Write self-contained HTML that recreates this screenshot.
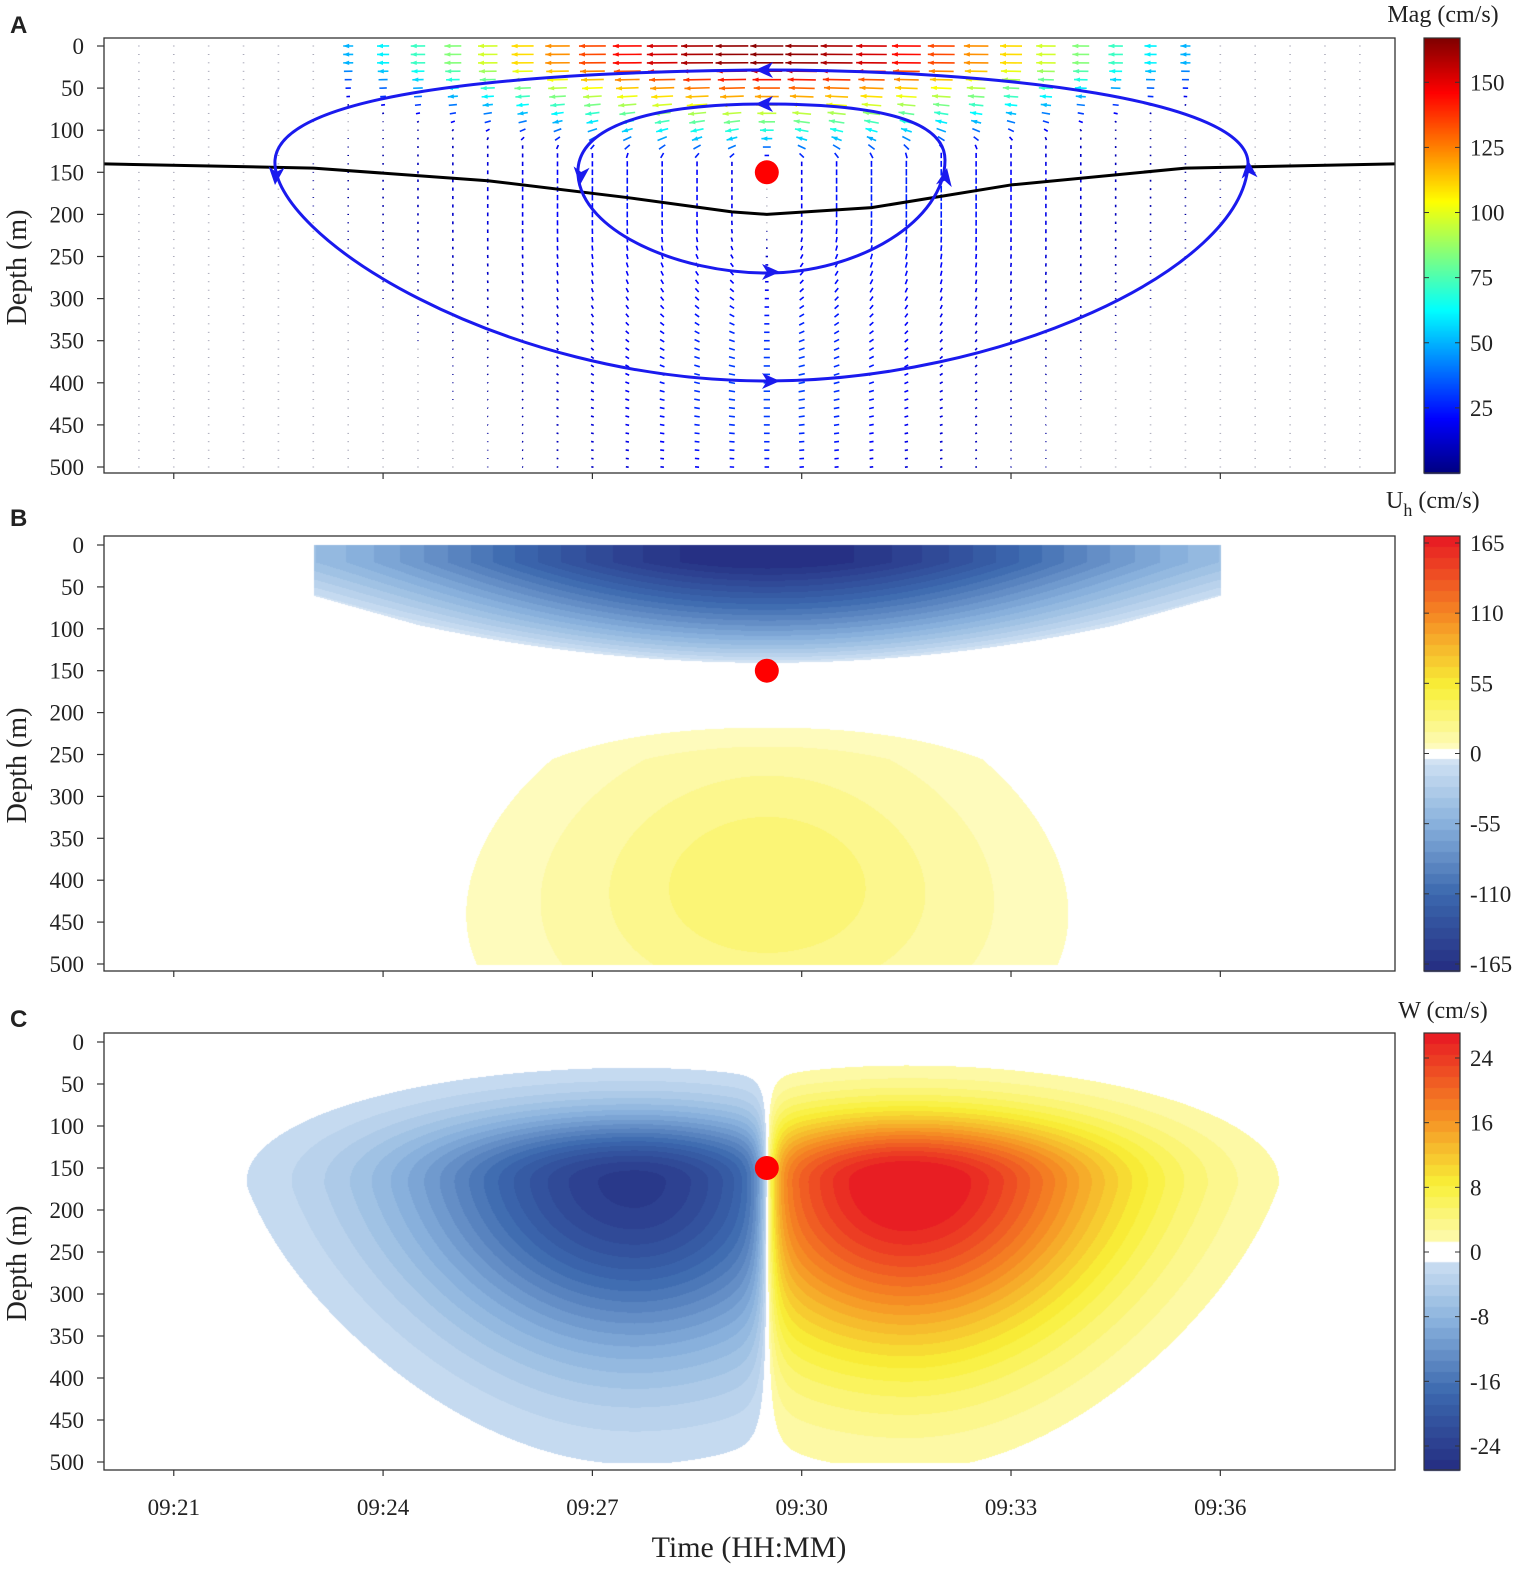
<!DOCTYPE html>
<html><head><meta charset="utf-8">
<style>
html,body{margin:0;padding:0;background:#fff;}
#wrap{position:relative;width:1535px;height:1581px;overflow:hidden;}
canvas,svg{position:absolute;left:0;top:0;}
text{font-family:"Liberation Serif",serif;fill:#222;}
</style></head>
<body>
<div id="wrap">
<canvas id="cv" width="1535" height="1581"></canvas>
<svg id="sv" width="1535" height="1581"></svg>
</div>
<script>
// ---- data ----
const depthTicks=[0,50,100,150,200,250,300,350,400,450,500];
const timeTickMin=[1,4,7,10,13,16];
const timeTickLabels=['09:21','09:24','09:27','09:30','09:33','09:36'];
const magTicks=[25,50,75,100,125,150];
const uhTicks=[165,110,55,0,-55,-110,-165];
const wTicks=[24,16,8,0,-8,-16,-24];
const eddyCenter=[9.5,150]; // minutes after 09:20, depth m
const thermoTimes=[0,3,5.5,7.5,9,9.5,11,13,15.5,18.5];
const thermoDepths=[140,145,160,180,197,200,192,165,145,140];
const uhNegMax=[165], uhPosMax=[32], wNegMax=[24], wPosMax=[27];
const magMax=167;

const X0=104,X1=1395,PPM=69.77;
const P={A:{top:38,bot:473,z0:46,z5:467},B:{top:536,bot:971,z0:545,z5:964},C:{top:1033,bot:1470,z0:1042,z5:1462}};
const xOf=t=>X0+t*PPM;
const yOf=(p,z)=>p.z0+z/500*(p.z5-p.z0);
const sq=v=>v*v;

function uField(t,z){
  const s=t-eddyCenter[0];let v=0;
  const zb=Math.max(65,140-1.8*s*s);
  const Wt=z<60?6.5:6.5-(z-60)/70*3;
  if(z<zb&&Math.abs(s)<Wt){
    const vf=z<20?1:Math.pow(Math.max(0,1-(z-20)/(zb-20)),0.8);
    v-=uhNegMax[0]*vf*Math.exp(-sq(s/5.5));
    if(vf>0)v=Math.min(v,-6);
  }
  if(z>195){
    const sm=Math.min(1,(z-195)/60);
    v+=uhPosMax[0]*sm*Math.exp(-sq((z-405)/160))*Math.exp(-sq(s/(2.1+z/600)));
  }
  return v;
}
function wField(t,z){
  const s=t-eddyCenter[0];const a=Math.abs(s);
  const neg=s<0;const amp=neg?wNegMax[0]:wPosMax[0];
  const pk=neg?1.9:2.0;
  const wOut=(neg?3.3:3.1)*(1-0.25*Math.max(0,(z-170)/330));
  const hf=(1-Math.exp(-a/0.12))*Math.exp(-sq((a-pk)/(a<pk?2.8:wOut)));
  const vf=Math.exp(-sq((z-165)/(z<165?80:200)));
  return (neg?-1:1)*amp*hf*vf;
}
function lerp(a,b,f){return a.map((x,i)=>x+(b[i]-x)*f);}
function ramp(anchors,f){f=Math.max(0,Math.min(1,f));const n=anchors.length-1;const i=Math.min(n-1,Math.floor(f*n));return lerp(anchors[i],anchors[i+1],f*n-i);}
const negA=[[222,234,247],[140,180,222],[60,105,175],[38,48,132]];
const posA=[[255,253,212],[248,240,55],[245,135,35],[232,30,35]];
function divCmap(v,vmax,thr){
  if(Math.abs(v)<thr)return[255,255,255];
  let f=Math.min(1,Math.abs(v)/vmax);f=Math.ceil(f*20)/20;
  return ramp(v<0?negA:posA,f);
}
function jet(f){f=Math.max(0,Math.min(1,f));
  const r=Math.min(1,Math.max(0,1.5-Math.abs(4*f-3))),g=Math.min(1,Math.max(0,1.5-Math.abs(4*f-2))),b=Math.min(1,Math.max(0,1.5-Math.abs(4*f-1)));
  return[r*255,g*255,b*255];}

// ---- canvas heatmaps ----
const ctx=document.getElementById('cv').getContext('2d');
const img=ctx.createImageData(1535,1581);const D=img.data;
function put(x,y,c){const i=(y*1535+x)*4;D[i]=c[0];D[i+1]=c[1];D[i+2]=c[2];D[i+3]=255;}
for(const [key,fn,vmax,thr] of [['B',uField,165,3],['C',wField,26,1.4]]){
  const p=P[key];
  for(let y=Math.round(p.z0);y<=Math.round(p.z5);y++){
    const z=(y-p.z0)/(p.z5-p.z0)*500;
    for(let x=X0+1;x<X1;x++){const t=(x-X0)/PPM;put(x,y,divCmap(fn(t,z),vmax,thr));}
  }
}
const CB0=1424,CB1=1460;
for(let y=38;y<=473;y++){const f=(473-y)/(473-38);const c=jet(f);for(let x=CB0;x<CB1;x++)put(x,y,c);}
for(let y=536;y<=971;y++){const v=165*(1-2*(y-536)/(971-536));const c=divCmap(v,165,4);for(let x=CB0;x<CB1;x++)put(x,y,c);}
for(let y=1033;y<=1470;y++){const v=27-54*(y-1033)/(1470-1033);const c=divCmap(v,27,1.2);for(let x=CB0;x<CB1;x++)put(x,y,c);}
ctx.putImageData(img,0,0);

// ---- SVG overlay ----
const NS='http://www.w3.org/2000/svg';const sv=document.getElementById('sv');
function mk(tag,attrs,parent){const e=document.createElementNS(NS,tag);for(const k in attrs)e.setAttribute(k,attrs[k]);(parent||sv).appendChild(e);return e;}
function txt(x,y,s,size,anchor,parent){const e=mk('text',{x:x,y:y,'font-size':size,'text-anchor':anchor||'start'},parent);e.textContent=s;return e;}

const qg=mk('g',{});


const pA=P.A;
for(let t=0.5;t<18.3;t+=0.5){
  for(let z=0;z<=500;z+=10){
    const u=uField(t,z),w=wField(t,z);
    const dx=u*0.2,dy=-w*0.25;const mag=Math.hypot(u,w);
    const x=xOf(t),y=yOf(pA,z);
    const c=mag<3?[150,150,170]:jet(mag/magMax);
    const col='rgb('+c.map(v=>Math.round(v)).join(',')+')';
    const L=Math.max(0.8,Math.hypot(dx,dy));
    const ux=L>0.9?dx/L:0,uy=L>0.9?dy/L:1;
    const ln=mk('line',{x1:x-ux*L/2,y1:y-uy*L/2,x2:x+ux*L/2,y2:y+uy*L/2,stroke:col,'stroke-width':1.6},qg);
    
    
    if(L>10){const hx=x+ux*L/2,hy=y+uy*L/2;
      mk('polygon',{points:`${hx},${hy} ${hx-ux*6-uy*2.2},${hy-uy*6+ux*2.2} ${hx-ux*6+uy*2.2},${hy-uy*6-ux*2.2}`,fill:col},qg);}
  }
}
let d='';thermoTimes.forEach((t,i)=>{d+=(i?' L':'M')+xOf(t)+','+yOf(pA,thermoDepths[i]);});
const th=mk('path',{d:d,fill:'none',stroke:'#000','stroke-width':3,'stroke-linejoin':'round'});

const s1=mk('path',{d:'M766,70 C500,72 280,95 275,160 C270,235 500,381 766,381 C1000,381 1242,270 1248,165 C1252,100 1000,70 766,70 Z',fill:'none',stroke:'#1a1aee','stroke-width':3});

const s2=mk('path',{d:'M766,104 C640,104 575,130 578,175 C582,232 680,273 766,273 C860,273 945,220 945,160 C945,118 870,104 766,104 Z',fill:'none',stroke:'#1a1aee','stroke-width':3});

function arrowHead(x,y,ang){const g=mk('polygon',{points:'0,0 -18,-8 -13,0 -18,8',fill:'#1a1aee',transform:`translate(${x},${y}) rotate(${ang})`});}
arrowHead(755,70,180);arrowHead(275,185,95);arrowHead(780,381,0);arrowHead(1248,160,-95);
arrowHead(755,104,180);arrowHead(580,185,95);arrowHead(780,272,0);arrowHead(947,168,-80);

for(const k of ['A','B','C']){const c=mk('circle',{cx:xOf(eddyCenter[0]),cy:yOf(P[k],eddyCenter[1]),r:12,fill:'#ff0000'});
  }

const cbTitles={A:'Mag (cm/s)',B:'U',C:'W (cm/s)'};
const cbTitleY={A:22,B:508,C:1018};
const letterY={A:33,B:526,C:1027};
for(const k of ['A','B','C']){const p=P[k];
  const fr=mk('rect',{x:X0,y:p.top,width:X1-X0,height:p.bot-p.top,fill:'none',stroke:'#333','stroke-width':1.3});
  
  const yg=mk('g',{});
  depthTicks.forEach(z=>{const y=yOf(p,z);mk('line',{x1:X0-7,y1:y,x2:X0,y2:y,stroke:'#333','stroke-width':1.2},yg);txt(84,y+8,String(z),23,'end',yg);});
  const xg=mk('g',{});
  timeTickMin.forEach((t,i)=>{const x=xOf(t);mk('line',{x1:x,y1:p.bot,x2:x,y2:p.bot+6,stroke:'#333','stroke-width':1.2},xg);
    if(k==='C')txt(x,1515,timeTickLabels[i],23,'middle',xg);});
  const yt=txt(0,0,'Depth (m)',28,'middle');yt.setAttribute('transform',`translate(26,${(p.top+p.bot)/2+12}) rotate(-90)`);
  
  const lt=mk('text',{x:10,y:letterY[k],'font-size':24,'font-weight':'bold',style:'font-family:"Liberation Sans",sans-serif'});lt.textContent=k;
  
  const cb=mk('rect',{x:CB0,y:p.top,width:CB1-CB0,height:p.bot-p.top,fill:'none',stroke:'#333','stroke-width':1.2});
  
  const tt=txt(1443,cbTitleY[k],cbTitles[k],24,'middle');
  if(k==='B'){tt.textContent='';tt.setAttribute('x',1386);tt.setAttribute('text-anchor','start');
    const a=mk('tspan',{},tt);a.textContent='U';const b=mk('tspan',{'font-size':18,dy:8},tt);b.textContent='h';const c=mk('tspan',{dy:-8},tt);c.textContent=' (cm/s)';}
}
function cbTicks(vals,yFn,name){const g=mk('g',{});
  vals.forEach(v=>{const y=yFn(v);mk('line',{x1:CB1-5,y1:y,x2:CB1,y2:y,stroke:'#333'},g);mk('line',{x1:CB0,y1:y,x2:CB0+5,y2:y,stroke:'#333'},g);txt(1470,y+8,String(v),23,'start',g);});}
cbTicks(magTicks,v=>473-(v/magMax)*(473-38),'colorbar-ticks-a');
cbTicks(uhTicks,v=>753.5-v/165*(753.5-543),'colorbar-ticks-b');
cbTicks(wTicks,v=>1252-v/24*(1252-1058),'colorbar-ticks-c');
const xt=txt(749,1557,'Time (HH:MM)',30,'middle');
</script>
</body></html>
